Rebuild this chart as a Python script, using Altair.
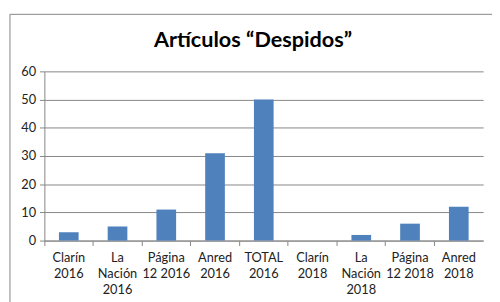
import altair as alt
import pandas as pd

categories = ["Clarín|2016", "La|Nación|2016", "Página|12 2016", "Anred|2016", "TOTAL|2016",
              "Clarín|2018", "La|Nación|2018", "Página|12 2018", "Anred|2018"]
values = [3, 5, 11, 31, 50, 0, 2, 6, 12]
title_text = "Artículos “Despidos”"

df = pd.DataFrame({"cat": categories, "val": values})
tdf = pd.DataFrame({"t": [title_text]})

W, H = 446, 172

bars = alt.Chart(df).mark_bar(color="#4F81BD", size=20).encode(
    x=alt.X("cat:N", sort=categories, title=None,
            scale=alt.Scale(paddingInner=0, paddingOuter=0),
            axis=alt.Axis(labelAngle=0, labelExpr="split(datum.value, '|')",
                          bandPosition=0, ticks=True, tickSize=5, tickColor="#868686",
                          domainColor="#868686", labelColor="#222222",
                          labelFontSize=13, labelFont="Lato", labelPadding=6,
                          labelLineHeight=16.5, labelBaseline="top", grid=False)),
    y=alt.Y("val:Q", title=None,
            scale=alt.Scale(domain=[0, 60]),
            axis=alt.Axis(values=[0, 10, 20, 30, 40, 50, 60], tickSize=5, tickColor="#868686",
                          domainColor="#868686", gridColor="#868686", labelColor="#222222",
                          labelFontSize=13, labelFont="Lato", labelPadding=4)),
)

frame = alt.Chart(tdf).mark_rule(color="#868686", strokeWidth=1).encode(
    x=alt.value(-35), x2=alt.value(W + 60), y=alt.value(-58)
) + alt.Chart(tdf).mark_rule(color="#868686", strokeWidth=1).encode(
    x=alt.value(-35), y=alt.value(-58), y2=alt.value(H + 80)
)

title = alt.Chart(tdf).mark_text(font="Lato", fontSize=22, fontWeight="bold",
                                 color="#000000", align="center", baseline="alphabetic").encode(
    text="t:N", x=alt.value(212), y=alt.value(-25)
)

chart = (frame + title + bars).properties(
    width=W, height=H,
    autosize=alt.AutoSizeParams(type="none"),
    padding={"left": 37, "top": 62, "right": 9, "bottom": 60},
).configure_view(stroke=None).configure_axis(gridWidth=1)

chart.save("out.html", embed_options={"renderer": "svg", "actions": False})
